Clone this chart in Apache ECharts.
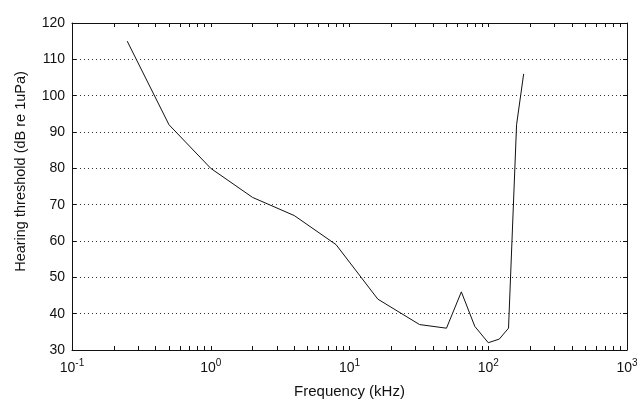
<!DOCTYPE html>
<html>
<head>
<meta charset="utf-8">
<script src="https://cdn.jsdelivr.net/npm/echarts@6/dist/echarts.min.js"></script>
<style>
  html, body { margin: 0; padding: 0; background: #fff; }
  #chart { width: 637px; height: 401px; }
</style>
</head>
<body>
<div id="chart"></div>
<script>
// frequency (kHz) and hearing threshold (dB re 1uPa)
var freqs = [0.25, 0.5, 1, 2, 4, 8, 16, 32, 50, 64, 80, 100, 120, 140, 160, 180];
var thresholds = [115, 92, 80, 72, 67, 59, 44, 37, 36, 46, 36.5, 32, 33, 36, 92, 106];

// decade labels and log minor ticks (2..9 per decade)
var decades = [0.1, 1, 10, 100, 1000];
var tickVals = [];
for (var d = 0; d < decades.length - 1; d++) {
  for (var m = 1; m <= 9; m++) tickVals.push(decades[d] * m);
}
tickVals.push(1000);

var FONT = 'Liberation Sans';
var INK = '#111';

var chart = echarts.init(document.getElementById('chart'));

function xAxisBase(pos, withLabels) {
  return {
    type: 'log',
    logBase: 10,
    min: 0.1,
    max: 1000,
    position: pos,
    axisLine: { show: true, lineStyle: { color: INK, width: 1 } },
    axisTick: { show: true, inside: true, length: 4, customValues: tickVals, lineStyle: { color: INK } },
    axisLabel: withLabels ? {
      show: true,
      customValues: decades,
      margin: 8,
      formatter: function (v) {
        return '{b|10}{s|' + Math.round(Math.log10(v)) + '}';
      },
      rich: {
        b: { fontFamily: FONT, fontSize: 14, lineHeight: 14, color: INK, padding: [6, 0, 0, 0] },
        s: { fontFamily: FONT, fontSize: 10, lineHeight: 10, color: INK, verticalAlign: 'top' }
      }
    } : { show: false },
    splitLine: { show: false }
  };
}

var bottomX = xAxisBase('bottom', true);
bottomX.name = 'Frequency (kHz)';
bottomX.nameLocation = 'middle';
bottomX.nameGap = 34;
bottomX.nameTextStyle = { fontFamily: FONT, fontSize: 15, color: INK };

var topX = xAxisBase('top', false);

var option = {
  backgroundColor: '#fff',
  animation: false,
  grid: { left: 72, right: 10, top: 23, bottom: 51, containLabel: false, outerBoundsMode: 'none' },
  xAxis: [bottomX, topX],
  yAxis: [{
    type: 'value',
    min: 30,
    max: 120,
    interval: 10,
    position: 'left',
    name: 'Hearing threshold (dB re 1uPa)',
    nameLocation: 'middle',
    nameGap: 44,
    nameTextStyle: { fontFamily: FONT, fontSize: 14.5, color: INK, padding: [0, 0, 0, 30] },
    axisLine: { show: true, lineStyle: { color: INK, width: 1 } },
    axisTick: { show: true, inside: true, length: 4, lineStyle: { color: INK } },
    axisLabel: { fontFamily: FONT, fontSize: 14, color: INK, margin: 7 },
    splitLine: { show: true, lineStyle: { color: '#333', type: [1, 3], width: 1 } }
  }, {
    type: 'value',
    min: 30,
    max: 120,
    interval: 10,
    position: 'right',
    axisLine: { show: true, lineStyle: { color: INK, width: 1 } },
    axisTick: { show: true, inside: true, length: 4, lineStyle: { color: INK } },
    axisLabel: { show: false },
    splitLine: { show: false }
  }],
  series: [{
    type: 'line',
    data: freqs.map(function (f, i) { return [f, thresholds[i]]; }),
    showSymbol: false,
    lineStyle: { color: '#111', width: 1 },
    xAxisIndex: 0,
    yAxisIndex: 0
  }]
};

chart.setOption(option);
</script>
</body>
</html>
